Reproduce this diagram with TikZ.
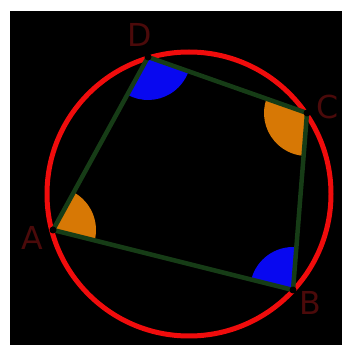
\documentclass[tikz,border=0pt]{standalone}
\usepackage{fontspec}
\newfontfamily\labelfont{DejaVu Sans}
\usetikzlibrary{angles}
\definecolor{circred}{RGB}{240,12,12}
\definecolor{sidegreen}{RGB}{22,60,22}
\definecolor{angorange}{RGB}{215,120,5}
\definecolor{angblue}{RGB}{8,8,240}
\definecolor{lblred}{RGB}{75,10,10}
\tikzset{
  vertex label/.style={text=lblred, font=\labelfont\fontsize{18}{20}\selectfont, inner sep=0pt},
  wedge/.style={draw=none, angle radius=0.86cm},
}

\begin{document}
\begin{tikzpicture}[x=0.02cm,y=0.02cm]
    % ---- frame ----
    \useasboundingbox (0,0) rectangle (342,345);
    \fill[white] (0,0) rectangle (342,345);
    \fill[black] (10,0) rectangle (342,334);

    % ---- circle and vertices ----
    \coordinate (O) at (189,151);
    \coordinate (A) at (53,115);
    \coordinate (B) at (293,55);
    \coordinate (C) at (307,232);
    \coordinate (D) at (148,288);

    \draw[circred, line width=0.1cm] (O) circle (142);

    % Angle wedges
    \pic[wedge, fill=angorange] {angle = B--A--D};
    \pic[wedge, fill=angblue] {angle = C--B--A};
    \pic[wedge, fill=angorange] {angle = D--C--B};
    \pic[wedge, fill=angblue] {angle = A--D--C};

    % Sides
    \draw[sidegreen, line width=0.09cm, line join=round] (A) -- (B) -- (C) -- (D) -- cycle;

    \foreach \p in {A,B,C,D} {
        \fill[black] (\p) circle (3.5);
    }

    % Labels
    \node[vertex label] (lblA) at (32,107) {A};
    \node[vertex label] (lblB) at (310,42) {B};
    \node[vertex label] (lblC) at (328,238) {C};
    \node[vertex label] (lblD) at (140,310) {D};
\end{tikzpicture}
\end{document}
